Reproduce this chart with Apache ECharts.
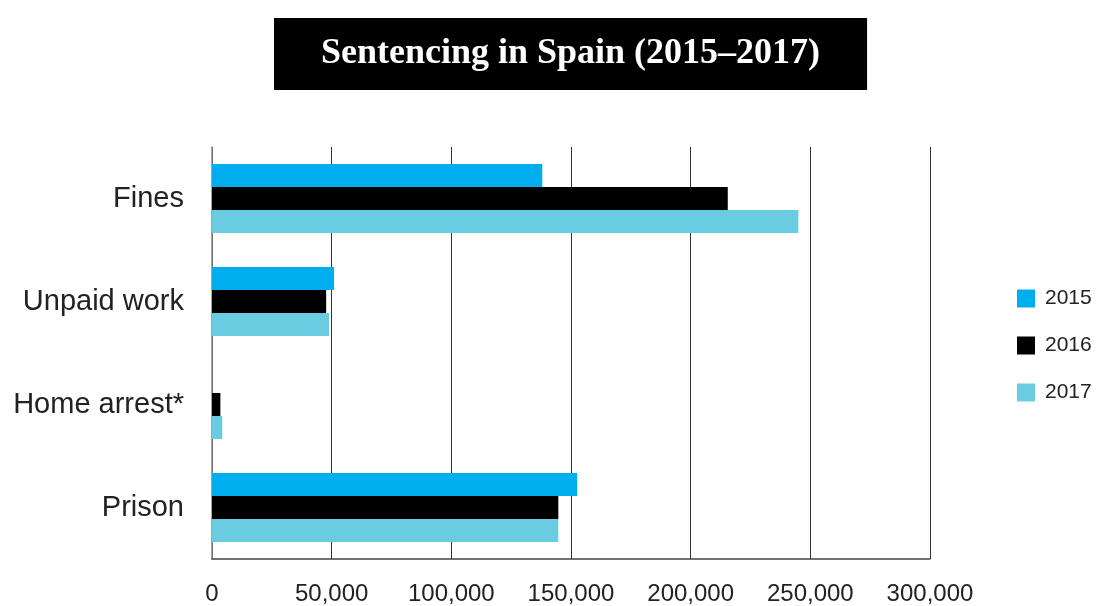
<!DOCTYPE html>
<html>
<head>
<meta charset="utf-8">
<script src="https://cdn.jsdelivr.net/npm/echarts@6/dist/echarts.min.js"></script>
<style>
  html, body { margin: 0; padding: 0; background: #fff; }
  #main { width: 1099px; height: 606px; }
</style>
</head>
<body>
<div id="main"></div>
<script>
// data
var categories = ['Fines', 'Unpaid work', 'Home arrest*', 'Prison'];
var years = ['2015', '2016', '2017'];
var v2015 = [138000, 51000, 0, 152600];
var v2016 = [215500, 47700, 3500, 144700];
var v2017 = [245000, 48900, 4300, 144700];
var xTicks = [0, 50000, 100000, 150000, 200000, 250000, 300000];

var colors = ['#00AEEF', '#000000', '#69CCE1'];

var chart = echarts.init(document.getElementById('main'));

var option = {
  animation: false,
  title: {
    text: 'Sentencing in Spain (2015\u20132017)',
    left: 274,
    top: 18,
    backgroundColor: '#000',
    padding: [18, 47, 18, 47],
    textStyle: {
      color: '#fff',
      fontFamily: 'Liberation Serif',
      fontWeight: 'bold',
      fontSize: 36
    }
  },
  legend: {
    data: years,
    orient: 'vertical',
    left: 1012,
    top: 283,
    itemWidth: 18,
    itemHeight: 18,
    itemGap: 26,
    icon: 'rect',
    textStyle: {
      fontFamily: 'Liberation Sans',
      fontSize: 21,
      color: '#222',
      padding: [0, 0, 0, 5]
    }
  },
  grid: {
    left: 212,
    top: 147,
    width: 718,
    height: 418
  },
  xAxis: {
    type: 'value',
    min: xTicks[0],
    max: xTicks[xTicks.length - 1],
    interval: 50000,
    axisLine: { show: true, lineStyle: { color: '#444', width: 1.5 } },
    axisTick: { show: false },
    splitLine: { show: true, lineStyle: { color: '#333', width: 1 } },
    axisLabel: {
      margin: 23,
      fontFamily: 'Liberation Sans',
      fontSize: 24,
      color: '#222',
      formatter: function (v) { return v.toLocaleString('en-US'); }
    }
  },
  yAxis: {
    type: 'category',
    data: categories,
    inverse: true,
    axisLine: { show: true, lineStyle: { color: '#888', width: 1.5 } },
    axisTick: { show: false },
    axisLabel: {
      margin: 28,
      fontFamily: 'Liberation Sans',
      fontSize: 29,
      color: '#222'
    }
  },
  series: [
    { name: years[0], type: 'bar', data: v2015, itemStyle: { color: colors[0] }, barGap: 0, barCategoryGap: '33%' },
    { name: years[1], type: 'bar', data: v2016, itemStyle: { color: colors[1] }, barGap: 0, barCategoryGap: '33%' },
    { name: years[2], type: 'bar', data: v2017, itemStyle: { color: colors[2] }, barGap: 0, barCategoryGap: '33%' }
  ]
};

chart.setOption(option);
</script>
</body>
</html>
